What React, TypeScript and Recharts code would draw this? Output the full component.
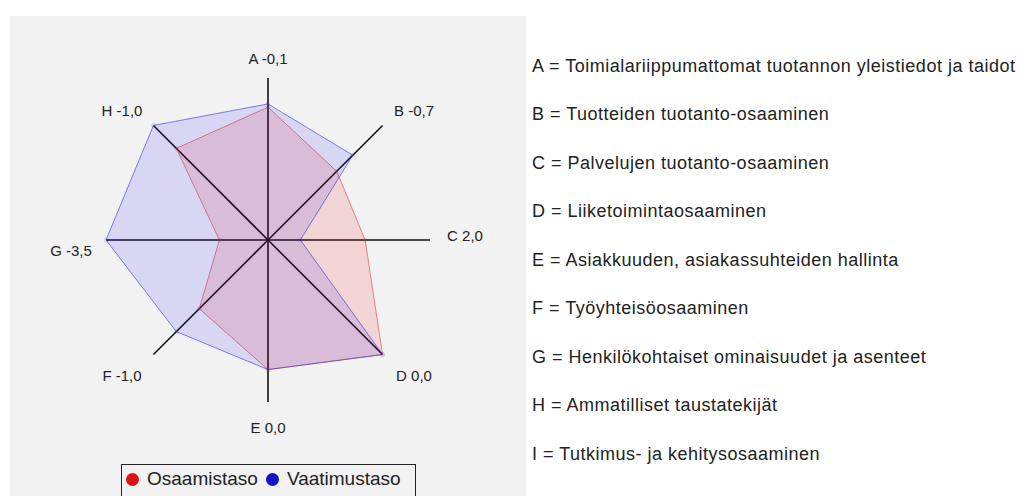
import React from "react"
import { Radar, RadarChart, PolarGrid, PolarAngleAxis, PolarRadiusAxis, Legend } from "recharts"

const categories = ["A", "B", "C", "D", "E", "F", "G", "H"]
const diffLabels = ["-0,1", "-0,7", "2,0", "0,0", "0,0", "-1,0", "-3,5", "-1,0"]
const osaamistaso = [4.1, 3.0, 3.0, 5.0, 4.0, 3.0, 1.5, 4.0]
const vaatimustaso = [4.2, 3.7, 1.0, 5.0, 4.0, 4.0, 5.0, 5.0]
const descriptions = [
  "A = Toimialariippumattomat tuotannon yleistiedot ja taidot",
  "B = Tuotteiden tuotanto-osaaminen",
  "C = Palvelujen tuotanto-osaaminen",
  "D = Liiketoimintaosaaminen",
  "E = Asiakkuuden, asiakassuhteiden hallinta",
  "F = Työyhteisöosaaminen",
  "G = Henkilökohtaiset ominaisuudet ja asenteet",
  "H = Ammatilliset taustatekijät",
  "I = Tutkimus- ja kehitysosaaminen",
]

const chartData = categories.map((c, i) => ({
  axis: `${c} ${diffLabels[i]}`,
  osaamistaso: osaamistaso[i],
  vaatimustaso: vaatimustaso[i],
}))

const CX = 258
const CY = 224
const FONT = "'Liberation Sans', Arial, sans-serif"

// labels sit in a box around the plot, not on a circle
function AxisTick(props: any) {
  const angle = (props.payload.coordinate * Math.PI) / 180
  const cos = Math.cos(angle)
  const sin = Math.sin(angle)
  const horiz = Math.abs(sin) < 0.01
  const vert = Math.abs(cos) < 0.01
  const x = CX + (vert ? 0 : Math.sign(cos) * (horiz ? 197 : 146))
  let y = CY + 2.5 - (horiz ? 0 : Math.sign(sin) * (vert ? 184.5 : 132.5))
  if (horiz) y = CY + (cos > 0 ? -5 : 10)
  return (
    <text x={x} y={y} textAnchor="middle" dominantBaseline="central" fontSize={15} fontFamily={FONT} fill="#222">
      {props.payload.value}
    </text>
  )
}

function LegendBox() {
  const item = (color: string, label: string) => (
    <span style={{ display: "inline-flex", alignItems: "center", marginRight: 8 }}>
      <span style={{ width: 13, height: 13, borderRadius: 7, background: color, display: "inline-block", marginRight: 8 }} />
      {label}
    </span>
  )
  return (
    <div
      style={{
        border: "1px solid #222",
        padding: "3px 0 14px 4px",
        fontFamily: FONT,
        fontSize: 19,
        color: "#222",
        whiteSpace: "nowrap",
        width: 289,
      }}
    >
      {item("#dd1111", "Osaamistaso")}
      {item("#1111cc", "Vaatimustaso")}
    </div>
  )
}

export default function App() {
  return (
    <div style={{ position: "absolute", left: 0, top: 0, width: 1026, height: 496, background: "#fff", overflow: "hidden" }}>
      <div style={{ position: "absolute", left: 10, top: 16, width: 516, height: 480, background: "#f2f2f2" }}>
        <RadarChart
          width={516}
          height={480}
          data={chartData}
          cx={CX}
          cy={CY}
          outerRadius={162}
          margin={{ top: 0, right: 0, bottom: 0, left: 0 }}
        >
          <PolarGrid polarRadius={[]} stroke="#111" strokeWidth={1.6} />
          <PolarAngleAxis dataKey="axis" axisLine={false} tickLine={false} tick={AxisTick} />
          <PolarRadiusAxis domain={[0, 5]} tick={false} axisLine={false} />
          <Radar
            name="Osaamistaso"
            dataKey="osaamistaso"
            stroke="#e03030"
            strokeOpacity={0.55}
            fill="#ff0000"
            fillOpacity={0.12}
            dot={{ r: 2.5, fill: "#c02838", stroke: "none" }}
            isAnimationActive={false}
          />
          <Radar
            name="Vaatimustaso"
            dataKey="vaatimustaso"
            stroke="#3030e0"
            strokeOpacity={0.6}
            fill="#0000ff"
            fillOpacity={0.11}
            dot={{ r: 2.5, fill: "#2020a0", stroke: "none" }}
            isAnimationActive={false}
          />
          <Legend content={LegendBox} wrapperStyle={{ left: 111, top: 448, width: "auto", bottom: "auto" }} />
        </RadarChart>
      </div>
      <div
        style={{
          position: "absolute",
          left: 532,
          top: 41.5,
          fontFamily: FONT,
          fontSize: 18,
          letterSpacing: 0.5,
          lineHeight: "48.5px",
          color: "#222",
          whiteSpace: "nowrap",
        }}
      >
        {descriptions.map((d) => (
          <div key={d}>{d}</div>
        ))}
      </div>
    </div>
  )
}
